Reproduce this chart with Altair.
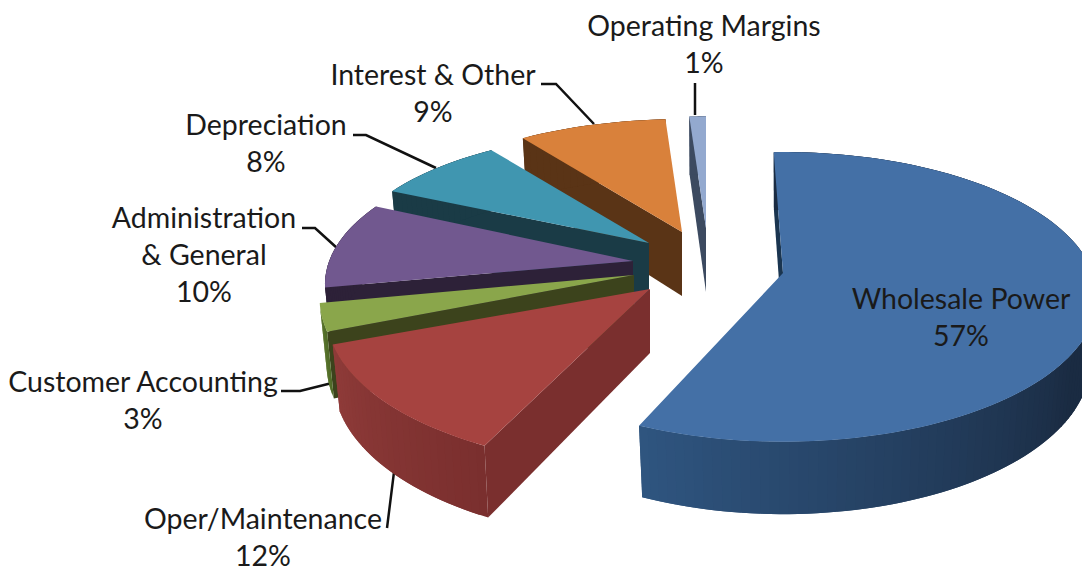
import math
import altair as alt

# ---- chart values ----
CATEGORIES = ["Wholesale Power", "Oper/Maintenance", "Customer Accounting",
              "Administration & General", "Depreciation", "Interest & Other",
              "Operating Margins"]
VALUES = [57, 12, 3, 10, 8, 9, 1]
LABEL_TEXT = ["Wholesale Power", "Oper/Maintenance", "Customer Accounting",
              "Administration\n& General", "Depreciation", "Interest & Other",
              "Operating Margins"]

# ---- styling ----
TOP = ["#4470a6", "#a64340", "#8aa64b", "#71588f", "#4096b0", "#d9813b", "#93a9cf"]
WALL = ["#1a3550", "#7a2f2e", "#3c431c", "#2d2138", "#1a3b46", "#5a3416", "#3c4a60"]
RIM_DARK = ["#1a2b42", "#7a2f2e", "#4f6a28", "#2d2138", "#1a3b46", "#5a3416", "#3c4a60"]
RIM_LIGHT = ["#2f5580", "#8f3b39", "#5f7a2f", "#2d2138", "#1a3b46", "#5a3416", "#3c4a60"]
RIM_HOLD = [0.6, 0, 0, 0, 0, 0, 0]

# ---- 3-D layout of the exploded pie ----
RX, RY, K = 310.0, 144.5, 0.165
APEX = [(783, 273), (650, 289), (634, 275), (633, 261), (649, 243), (682, 232), (706, 228)]
ROT = [-2, 1, 0, 0, 0, 0, 0]
SX = [1, 1.03, 1, 0.98, 0.98, 0.99, 1]
SY = [0.975, 1.03, 1, 0.95, 0.9, 0.91, 0.9]
WALL_DX, WALL_D0, WALL_DY = 0.978, 64.0, 1.05

# ---- leader lines, text anchors ----
LEADERS = [
    [(695, 83), (695, 115)],
    [(541, 84), (556, 84), (594, 124)],
    [(353, 135), (366, 135), (436, 168)],
    [(302, 228), (315, 228), (337, 248)],
    [(281, 391), (300, 391), (332, 383)],
    [(394, 472), (387, 528)],
]
LABEL_XY = [(961, 300), (263, 520), (143, 383), (204, 219), (266, 126), (433, 76), (704, 27)]
FONT = "Lato"
FONT_SIZE = 28.5
LINE_H = 37


def offset(i, theta):
    t = math.radians(theta + ROT[i])
    X, Y = math.sin(t), -math.cos(t)
    s = 1 / (1 - K * Y)
    return RX * X * s * SX[i], RY * Y * s * SY[i]


def top_pt(i, theta):
    dx, dy = offset(i, theta)
    return (APEX[i][0] + dx, APEX[i][1] + dy)


def low_pt(i, theta):
    dx, dy = offset(i, theta)
    return (APEX[i][0] + dx * WALL_DX, APEX[i][1] + WALL_D0 + dy * WALL_DY)


def poly(points, color):
    ring = [list(p) for p in points] + [list(points[0])]
    return {"type": "Feature", "properties": {"c": color},
            "geometry": {"type": "Polygon", "coordinates": [ring]}}


def mix(a, b, t):
    ca = [int(a[j:j + 2], 16) for j in (1, 3, 5)]
    cb = [int(b[j:j + 2], 16) for j in (1, 3, 5)]
    return "#%02x%02x%02x" % tuple(round(x + (y - x) * t) for x, y in zip(ca, cb))


spans = []
acc = 0.0
for v in VALUES:
    spans.append((acc, acc + v * 3.6))
    acc += v * 3.6

faces = []
for i in range(len(VALUES) - 1, -1, -1):  # back slices first, blue painted last
    a, b = spans[i]
    n = max(2, int((b - a) / 1.5))
    thetas = [a + (b - a) * j / n for j in range(n + 1)]
    apex_top = APEX[i]
    apex_low = (APEX[i][0], APEX[i][1] + WALL_D0)
    # radial wall at the clockwise start of the slice
    faces.append(poly([apex_top, top_pt(i, a), low_pt(i, a), apex_low], WALL[i]))
    # rim, as overlapping strips so its shade can change along the arc without seams
    for j in range(n):
        t = (j + 0.5) / n
        hold = RIM_HOLD[i]
        shade = max(0.0, (t - hold) / (1 - hold))
        far = thetas[min(j + 2, n)]
        faces.append(poly([top_pt(i, thetas[j]), top_pt(i, far),
                           low_pt(i, far), low_pt(i, thetas[j])],
                          mix(RIM_DARK[i], RIM_LIGHT[i], shade)))
    # top face
    faces.append(poly([apex_top] + [top_pt(i, th) for th in thetas], TOP[i]))

lines = [{"type": "Feature", "properties": {},
          "geometry": {"type": "LineString", "coordinates": [list(p) for p in pts]}}
         for pts in LEADERS]

labels = [{"text": f"{name}\n{v}%", "x": xy[0], "y": xy[1]}
          for name, v, xy in zip(LABEL_TEXT, VALUES, LABEL_XY)]

proj = dict(type="identity", scale=1, translate=[-8, -8])

face_layer = alt.Chart(alt.Data(values=faces)).mark_geoshape(strokeWidth=0).encode(
    fill=alt.Fill("properties.c:N", scale=None, legend=None),
).project(**proj)

line_layer = alt.Chart(alt.Data(values=lines)).mark_geoshape(
    filled=False, stroke="#111111", strokeWidth=2.5).project(**proj)

text_layer = alt.Chart(alt.Data(values=labels)).mark_text(
    font=FONT, fontSize=FONT_SIZE, color="#1a1a1a", lineBreak="\n", lineHeight=LINE_H,
    align="center", baseline="middle",
).encode(longitude="x:Q", latitude="y:Q", text="text:N").project(**proj)

chart = alt.layer(line_layer, face_layer, text_layer).properties(
    width=1074, height=564, padding=0, autosize=alt.AutoSizeParams(type="none"),
).configure_view(stroke=None).configure(background="white")

chart.save("out.html", embed_options={"renderer": "svg", "actions": False})
